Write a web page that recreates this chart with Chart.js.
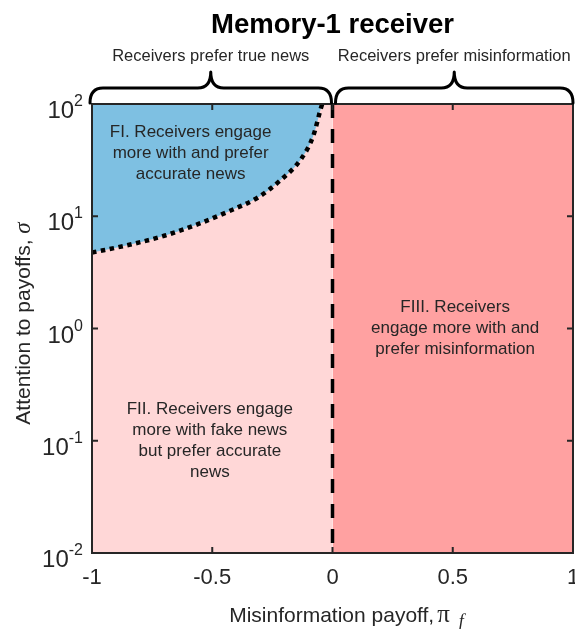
<!DOCTYPE html>
<html>
<head>
<meta charset="utf-8">
<title>Memory-1 receiver</title>
<script src="https://cdn.jsdelivr.net/npm/chart.js@4.4.1/dist/chart.umd.min.js"></script>
<style>
  html, body { margin: 0; padding: 0; background: #ffffff; }
  #wrap { width: 575px; height: 629px; position: relative; }
</style>
</head>
<body>
<div id="wrap"><canvas id="chart" width="575" height="629"></canvas></div>
<script>
// ---- data ----
const chartTitle = 'Memory-1 receiver';
const xTickValues = [-1, -0.5, 0, 0.5, 1];
const xTickLabels = ['-1', '-0.5', '0', '0.5', '1'];
const yTickValues = [0.01, 0.1, 1, 10, 100];
const yTickExponents = ['-2', '-1', '0', '1', '2'];

// boundary between regions FI and FII (payoff of misinformation vs attention sigma)
const boundaryPayoff = [-1, -0.84, -0.70, -0.56, -0.43, -0.31, -0.22, -0.13, -0.08, -0.05, -0.043];
const boundarySigma  = [4.75, 5.6, 6.7, 8.5, 11.1, 14.7, 20.6, 32.5, 52, 89, 100];

// regions split at pi_f = 0
const splitPayoff = 0;
const payoffRange = [-1, 1];
const sigmaRange = [0.01, 100];

const regionLabels = [
  { x: -0.59, y: 36,  lines: ['FI. Receivers engage', 'more with and prefer', 'accurate news'] },
  { x: -0.51, y: 0.1, lines: ['FII. Receivers engage', 'more with fake news', 'but prefer accurate', 'news'] },
  { x: 0.51,  y: 1,   lines: ['FIII. Receivers', 'engage more with and', 'prefer misinformation'] }
];
const braceLabels = [
  { from: -1, to: 0, text: 'Receivers prefer true news' },
  { from: 0,  to: 1, text: 'Receivers prefer misinformation' }
];

const SANS = '"Liberation Sans", Arial, Helvetica, sans-serif';
const SERIF = '"Liberation Serif", "Times New Roman", serif';
const INK = '#262626';

const boundaryPoints = boundaryPayoff.map((x, i) => ({ x: x, y: boundarySigma[i] }));

// ---- decorations drawn with the chart's scales ----
const decorations = {
  id: 'decorations',
  afterDatasetsDraw(chart) {
    const ctx = chart.ctx;
    const xs = chart.scales.x, ys = chart.scales.y;
    const a = chart.chartArea;
    const midX = (a.left + a.right) / 2;
    ctx.save();

    // frame
    ctx.strokeStyle = INK;
    ctx.lineWidth = 2;
    ctx.strokeRect(a.left, a.top, a.right - a.left, a.bottom - a.top);

    // inward tick marks
    const tl = 6;
    ctx.lineWidth = 2;
    ctx.beginPath();
    xTickValues.forEach(v => {
      const px = xs.getPixelForValue(v);
      ctx.moveTo(px, a.bottom); ctx.lineTo(px, a.bottom - tl);
      ctx.moveTo(px, a.top); ctx.lineTo(px, a.top + tl);
    });
    yTickValues.forEach(v => {
      const py = ys.getPixelForValue(v);
      ctx.moveTo(a.left, py); ctx.lineTo(a.left + tl, py);
      ctx.moveTo(a.right, py); ctx.lineTo(a.right - tl, py);
    });
    ctx.stroke();

    // title centred over the plot
    ctx.fillStyle = '#000000';
    ctx.textAlign = 'center';
    ctx.textBaseline = 'alphabetic';
    ctx.font = 'bold 27.5px ' + SANS;
    ctx.fillText(chartTitle, midX, 33);

    // y tick labels 10^k
    ctx.fillStyle = INK;
    yTickValues.forEach((v, i) => {
      const py = ys.getPixelForValue(v);
      const rightEdge = a.left - 9;
      ctx.font = '16px ' + SANS;
      const ew = ctx.measureText(yTickExponents[i]).width;
      ctx.textAlign = 'right';
      ctx.fillText(yTickExponents[i], rightEdge, py + 2);
      ctx.font = '24px ' + SANS;
      ctx.fillText('10', rightEdge - ew, py + 14);
    });

    // region annotations
    ctx.textAlign = 'center';
    ctx.textBaseline = 'middle';
    ctx.font = '17px ' + SANS;
    const lh = 21;
    regionLabels.forEach(r => {
      const cx = xs.getPixelForValue(r.x);
      const cy = ys.getPixelForValue(r.y);
      const y0 = cy - (r.lines.length - 1) * lh / 2;
      r.lines.forEach((t, k) => ctx.fillText(t, cx, y0 + k * lh));
    });

    // braces with labels above the plot
    ctx.strokeStyle = '#000000';
    ctx.lineWidth = 3;
    ctx.lineCap = 'round';
    ctx.lineJoin = 'round';
    braceLabels.forEach((b, i) => {
      const x1 = xs.getPixelForValue(b.from) + (i === 0 ? -2 : 3);
      const x2 = xs.getPixelForValue(b.to) + (i === 0 ? -1 : 0);
      const xm = (x1 + x2) / 2;
      const yEnd = a.top - 1, yMid = 88, yTip = 72, r = 13;
      ctx.beginPath();
      ctx.moveTo(x1, yEnd);
      ctx.quadraticCurveTo(x1, yMid, x1 + r, yMid);
      ctx.lineTo(xm - r, yMid);
      ctx.quadraticCurveTo(xm, yMid, xm, yTip);
      ctx.quadraticCurveTo(xm, yMid, xm + r, yMid);
      ctx.lineTo(x2 - r, yMid);
      ctx.quadraticCurveTo(x2, yMid, x2, yEnd);
      ctx.stroke();

      ctx.fillStyle = INK;
      ctx.font = '16.5px ' + SANS;
      ctx.textAlign = 'center';
      ctx.textBaseline = 'alphabetic';
      ctx.fillText(b.text, xm, 61);
    });

    // x axis title: Misinformation payoff, pi_f
    ctx.fillStyle = INK;
    ctx.textBaseline = 'alphabetic';
    ctx.textAlign = 'left';
    const part1 = 'Misinformation payoff,';
    ctx.font = '21px ' + SANS;
    const w1 = ctx.measureText(part1).width;
    ctx.font = '25px ' + SERIF;
    const wPi = ctx.measureText('\u03C0').width;
    ctx.font = 'italic 18px ' + SERIF;
    const wF = ctx.measureText('f').width;
    const gap1 = 3, gap2 = 9;
    const total = w1 + gap1 + wPi + gap2 + wF;
    let tx = midX + 14 - total / 2;
    const baseY = 622;
    ctx.font = '21px ' + SANS;
    ctx.fillText(part1, tx, baseY);
    tx += w1 + gap1;
    ctx.font = '25px ' + SERIF;
    ctx.fillText('\u03C0', tx, baseY);
    tx += wPi + gap2;
    ctx.font = 'italic 18px ' + SERIF;
    ctx.fillText('f', tx, baseY + 5);

    // y axis title: Attention to payoffs, sigma
    ctx.save();
    const cyT = (a.top + a.bottom) / 2 - 5;
    ctx.translate(30, cyT);
    ctx.rotate(-Math.PI / 2);
    const yPart = 'Attention to payoffs, ';
    ctx.font = '21px ' + SANS;
    const wy1 = ctx.measureText(yPart).width;
    ctx.font = 'italic 23px ' + SERIF;
    const wSig = ctx.measureText('\u03C3').width;
    let ty = -(wy1 + wSig) / 2;
    ctx.font = '21px ' + SANS;
    ctx.fillText(yPart, ty, 0);
    ctx.font = 'italic 23px ' + SERIF;
    ctx.fillText('\u03C3', ty + wy1, 0);
    ctx.restore();

    ctx.restore();
  }
};

const chart = new Chart(document.getElementById('chart'), {
  type: 'line',
  data: {
    datasets: [
      {
        // pi_f = 0 threshold
        data: [{ x: splitPayoff, y: sigmaRange[1] }, { x: splitPayoff, y: sigmaRange[0] }],
        borderColor: '#000000',
        borderWidth: 3.5,
        borderDash: [14, 11],
        borderCapStyle: 'butt',
        pointRadius: 0,
        fill: false,
        order: 0
      },
      {
        // region FI above the boundary curve
        data: boundaryPoints,
        borderColor: '#000000',
        borderWidth: 4.5,
        borderDash: [4.5, 4.5],
        borderCapStyle: 'butt',
        backgroundColor: '#7EC0E2',
        cubicInterpolationMode: 'monotone',
        pointRadius: 0,
        fill: 'end',
        order: 1
      },
      {
        // region FII
        data: [{ x: payoffRange[0], y: sigmaRange[1] }, { x: splitPayoff, y: sigmaRange[1] }],
        borderWidth: 0,
        backgroundColor: '#FFD7D7',
        pointRadius: 0,
        fill: 'start',
        order: 2
      },
      {
        // region FIII
        data: [{ x: splitPayoff, y: sigmaRange[1] }, { x: payoffRange[1], y: sigmaRange[1] }],
        borderWidth: 0,
        backgroundColor: '#FFA1A1',
        pointRadius: 0,
        fill: 'start',
        order: 3
      }
    ]
  },
  options: {
    responsive: false,
    animation: false,
    events: [],
    layout: { padding: { left: 0, right: 2, top: 104, bottom: 0 } },
    plugins: {
      legend: { display: false },
      tooltip: { enabled: false },
      title: { display: false }
    },
    scales: {
      x: {
        type: 'linear',
        min: payoffRange[0],
        max: payoffRange[1],
        afterBuildTicks: s => { s.ticks = xTickValues.map(v => ({ value: v })); },
        afterFit: s => { s.height = 76; s.paddingLeft = 0; s.paddingRight = 0; },
        grid: { display: false, drawTicks: false },
        border: { display: false },
        ticks: {
          color: INK,
          font: { family: SANS, size: 22 },
          padding: 12,
          maxRotation: 0,
          callback: v => xTickLabels[xTickValues.indexOf(v)]
        }
      },
      y: {
        type: 'logarithmic',
        min: sigmaRange[0],
        max: sigmaRange[1],
        afterBuildTicks: s => { s.ticks = yTickValues.map(v => ({ value: v })); },
        afterFit: s => { s.width = 92; s.paddingTop = 0; s.paddingBottom = 0; },
        grid: { display: false, drawTicks: false },
        border: { display: false },
        ticks: { display: false }
      }
    }
  },
  plugins: [decorations]
});
</script>
</body>
</html>
